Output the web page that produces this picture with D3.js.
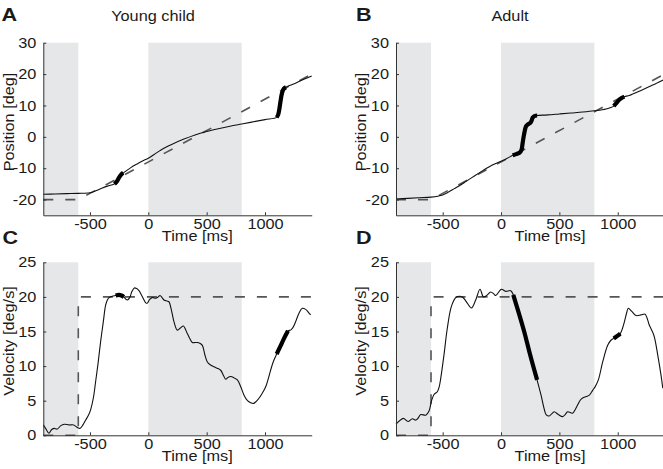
<!DOCTYPE html>
<html>
<head>
<meta charset="utf-8">
<script src="https://cdn.jsdelivr.net/npm/d3@7"></script>
<style>
  html, body { margin: 0; padding: 0; background: #fff; }
  svg { display: block; }
  text { font-family: "Liberation Sans", Arial, sans-serif; fill: #1a1a1a; }
</style>
</head>
<body>
<svg id="chart" width="663" height="469"></svg>
<script>
// ---------------- DATA ----------------
const timeDomain = [-900, 1400];
const timeTicks = [-500, 0, 500, 1000];
const posDomain = [-25, 30];
const posTicks = [-20, -10, 0, 10, 20, 30];
const velDomain = [0, 25];
const velTicks = [0, 5, 10, 15, 20, 25];
const shadeIntervals = [[-900, -600], [0, 800]];

const panelLetters = ["A", "B", "C", "D"];
const panelTitles = ["Young child", "Adult"];
const posLabel = "Position [deg]";
const velLabel = "Velocity [deg/s]";
const timeLabel = "Time [ms]";

// target (dashed)
const targetPos = [[-900, -20], [-600, -20], [1400, 20]];
const targetVel = [[-900, 0], [-600, 0], [-600, 20], [1400, 20]];

// young child eye position
const childPos = [
  [-900, -18.3], [-800, -18.2], [-700, -18.1], [-600, -18.0], [-500, -17.8], [-450, -17.2],
  [-400, -16.4], [-350, -15.7], [-300, -15.2], [-290, -15.0], [-270, -14.2], [-250, -12.9],
  [-230, -11.9], [-215, -11.5], [-150, -9.8], [-100, -8.7], [-50, -7.7], [0, -6.8], [50, -5.6],
  [100, -4.4], [150, -3.3], [200, -2.4], [300, -0.8], [400, 0.6], [500, 1.7], [600, 2.6],
  [700, 3.4], [800, 4.1], [900, 4.8], [1000, 5.5], [1100, 6.2], [1112, 7.0], [1122, 8.7],
  [1134, 11.6], [1146, 14.0], [1160, 15.3], [1180, 15.8], [1200, 16.2], [1250, 16.9],
  [1300, 17.8], [1350, 18.6], [1400, 19.4]
];
const childPosThick = [
  [[-290, -15.0], [-270, -14.2], [-250, -12.9], [-230, -11.9], [-215, -11.5]],
  [[1100, 6.2], [1112, 7.0], [1122, 8.7], [1134, 11.6], [1146, 14.0], [1160, 15.3], [1180, 15.8]]
];

// adult eye position
const adultPos = [
  [-900, -19.8], [-800, -19.6], [-700, -19.4], [-600, -19.2], [-500, -18.5], [-450, -17.6],
  [-400, -16.5], [-350, -15.4], [-300, -14.2], [-250, -13.0], [-200, -11.8], [-150, -10.6],
  [-100, -9.5], [-50, -8.6], [0, -7.8], [50, -6.9], [100, -5.9], [130, -5.5], [160, -5.0],
  [175, -4.2], [185, -2.0], [195, 0.3], [205, 2.2], [215, 3.4], [230, 4.0], [250, 4.4],
  [262, 5.2], [272, 6.2], [290, 6.7], [310, 6.8], [400, 7.0], [500, 7.3], [600, 7.6],
  [700, 7.9], [800, 8.3], [900, 8.9], [966, 9.8], [990, 10.8], [1010, 11.7], [1030, 12.3],
  [1057, 12.8], [1100, 13.2], [1200, 14.8], [1300, 16.5], [1400, 18.3]
];
const adultPosThick = [
  [[100, -5.9], [130, -5.5], [160, -5.0], [175, -4.2], [185, -2.0], [195, 0.3], [205, 2.2],
   [215, 3.4], [230, 4.0], [250, 4.4], [262, 5.2], [272, 6.2], [290, 6.7], [310, 6.8]],
  [[966, 9.8], [990, 10.8], [1010, 11.7], [1030, 12.3], [1057, 12.8]]
];

// young child eye velocity
const childVel = [
  [-900, 1.5], [-880, 1.0], [-852, 0.3], [-830, 0.8], [-809, 1.0], [-780, 0.9], [-750, 1.4],
  [-720, 1.6], [-680, 1.5], [-640, 1.5], [-614, 1.2], [-586, 1.0], [-560, 1.5], [-537, 2.2],
  [-510, 3.0], [-494, 3.7], [-470, 5.5], [-452, 7.7], [-430, 10.5], [-409, 13.5], [-385, 16.5],
  [-366, 18.8], [-350, 19.6], [-337, 19.9], [-310, 20.1], [-280, 20.2], [-250, 20.3],
  [-230, 20.2], [-209, 20.0], [-195, 19.7], [-180, 19.55], [-160, 19.9], [-140, 20.8],
  [-120, 21.3], [-100, 21.2], [-80, 20.9], [-66, 20.5], [-50, 20.0], [-37, 19.55], [-20, 19.1],
  [-9, 19.1], [10, 19.6], [34, 19.9], [63, 19.8], [85, 20.0], [100, 20.2], [118, 19.9],
  [134, 19.55], [160, 19.4], [177, 19.3], [195, 18.3], [220, 16.4], [248, 15.2], [275, 15.5],
  [300, 15.8], [334, 14.7], [355, 14.0], [377, 13.4], [400, 13.4], [420, 13.4], [440, 13.3],
  [463, 13.0], [485, 11.6], [506, 10.6], [530, 10.2], [563, 9.9], [590, 9.7], [620, 9.4],
  [645, 8.6], [663, 8.1], [685, 8.4], [706, 8.5], [735, 8.3], [763, 8.0], [790, 7.1],
  [820, 5.8], [850, 5.0], [877, 4.7], [900, 4.6], [925, 4.9], [948, 5.35], [970, 5.9],
  [991, 6.5], [1010, 7.2], [1030, 8.3], [1048, 9.4], [1070, 10.6], [1100, 11.75],
  [1130, 12.8], [1160, 13.9], [1197, 15.1], [1219, 15.2], [1240, 15.6], [1262, 16.4],
  [1290, 17.6], [1320, 18.35], [1348, 18.2], [1370, 17.8], [1391, 17.4]
];
const childVelThick = [
  [[-280, 20.2], [-250, 20.3], [-230, 20.2], [-209, 20.0]],
  [[1100, 11.75], [1130, 12.8], [1160, 13.9], [1197, 15.1]]
];

// adult eye velocity
const adultVel = [
  [-900, 1.6], [-870, 2.1], [-837, 2.45], [-797, 2.0], [-760, 2.4], [-731, 2.2], [-710, 2.5],
  [-688, 3.0], [-645, 2.9], [-617, 3.5], [-597, 4.9], [-574, 5.9], [-546, 6.3], [-530, 7.0],
  [-517, 8.2], [-489, 11.6], [-460, 15.5], [-426, 18.6], [-388, 19.9], [-360, 20.1],
  [-331, 20.0], [-310, 19.6], [-289, 19.1], [-254, 18.4], [-217, 19.55], [-180, 21.1],
  [-151, 20.0], [-123, 20.2], [-88, 20.7], [-60, 20.4], [-45, 20.2], [3, 21.1], [40, 20.8],
  [83, 20.9], [105, 20.3], [150, 17.8], [200, 14.9], [250, 11.6], [309, 8.0], [343, 5.8],
  [370, 3.8], [386, 3.0], [414, 2.8], [440, 3.2], [457, 3.4], [491, 3.0], [529, 2.7],
  [550, 3.0], [571, 3.4], [614, 3.2], [635, 3.7], [657, 4.4], [680, 5.1], [700, 5.4],
  [730, 5.6], [757, 5.8], [785, 6.5], [806, 7.0], [834, 8.0], [871, 10.6], [914, 13.0],
  [940, 13.7], [966, 14.0], [1000, 14.4], [1022, 14.7], [1040, 15.4], [1057, 16.4],
  [1075, 17.6], [1091, 18.35], [1120, 17.9], [1157, 17.3], [1200, 17.4], [1234, 17.5],
  [1271, 15.9], [1309, 14.5], [1343, 11.6], [1371, 8.7], [1386, 6.8]
];
const adultVelThick = [
  [[105, 20.3], [150, 17.8], [200, 14.9], [250, 11.6], [309, 8.0]],
  [[966, 14.0], [1000, 14.4], [1022, 14.7]]
];

// ---------------- LAYOUT ----------------
const svg = d3.select("#chart");
const colLeft = [43.3, 396];
const topRow = { top: 42.7, bottom: 215.3 };
const botRow = { top: 262.3, bottom: 435.3 };
const plotW = 268.4;

const panels = [
  { letter: panelLetters[0], col: 0, row: topRow, domain: posDomain, ticks: posTicks, ylab: posLabel,
    target: targetPos, eye: childPos, thick: childPosThick, title: panelTitles[0],
    letterPos: [1.5, 21], titleX: 153, ylabX: 13.5, ylabY: 122 },
  { letter: panelLetters[1], col: 1, row: topRow, domain: posDomain, ticks: posTicks, ylab: posLabel,
    target: targetPos, eye: adultPos, thick: adultPosThick, title: panelTitles[1],
    letterPos: [356, 21], titleX: 510, ylabX: 366, ylabY: 122 },
  { letter: panelLetters[2], col: 0, row: botRow, domain: velDomain, ticks: velTicks, ylab: velLabel,
    target: targetVel, eye: childVel, thick: childVelThick,
    letterPos: [2.5, 244], ylabX: 13.5, ylabY: 341 },
  { letter: panelLetters[3], col: 1, row: botRow, domain: velDomain, ticks: velTicks, ylab: velLabel,
    target: targetVel, eye: adultVel, thick: adultVelThick,
    letterPos: [356, 244], ylabX: 366, ylabY: 341 }
];

const fs = 14.3;   // font size
const sx = 1.14;   // horizontal glyph stretch seen in the reference

panels.forEach(p => {
  const left = colLeft[p.col];
  const x = d3.scaleLinear().domain(timeDomain).range([left, left + plotW]);
  const y = d3.scaleLinear().domain(p.domain).range([p.row.bottom, p.row.top]);
  const g = svg.append("g");

  // shaded intervals
  g.selectAll("rect.shade").data(shadeIntervals).enter().append("rect")
    .attr("class", "shade")
    .attr("x", d => x(d[0]))
    .attr("width", d => x(d[1]) - x(d[0]))
    .attr("y", y(p.domain[1]))
    .attr("height", y(p.domain[0]) - y(p.domain[1]))
    .attr("fill", "#e6e7e8");

  // target dashed
  const lin = d3.line().x(d => x(d[0])).y(d => y(d[1]));
  g.append("path").attr("d", lin(p.target))
    .attr("fill", "none").attr("stroke", "#555").attr("stroke-width", 1.6)
    .attr("stroke-dasharray", "10,12");

  // eye trace
  const smooth = d3.line().x(d => x(d[0])).y(d => y(d[1])).curve(d3.curveCatmullRom.alpha(0.5));
  g.append("path").attr("d", smooth(p.eye))
    .attr("fill", "none").attr("stroke", "#111").attr("stroke-width", 1.1);

  p.thick.forEach(seg => {
    g.append("path").attr("d", smooth(seg))
      .attr("fill", "none").attr("stroke", "#000").attr("stroke-width", 4.2)
      .attr("stroke-linecap", "butt");
  });

  // axes
  const xAxis = d3.axisBottom(x).tickValues(timeTicks).tickFormat(d3.format("d"))
    .tickSizeInner(-3).tickSizeOuter(0).tickPadding(3.5);
  const gx = g.append("g").attr("transform", `translate(0,${p.row.bottom})`).call(xAxis);
  const yAxis = d3.axisLeft(y).tickValues(p.ticks).tickFormat(d3.format("d"))
    .tickSizeInner(-3).tickSizeOuter(0).tickPadding(7);
  const gy = g.append("g").attr("transform", `translate(${left},0)`).call(yAxis);
  [gx, gy].forEach(a => {
    a.select(".domain").attr("stroke", "#333").attr("stroke-width", 1);
    a.selectAll(".tick line").attr("stroke", "#333");
    a.selectAll(".tick text").style("font-size", fs + "px").attr("fill", "#1a1a1a")
      .style("font-family", "'Liberation Sans', Arial, sans-serif")
      .text(d => d < 0 ? "-" + Math.abs(d) : d);
  });
  gx.selectAll(".tick text").attr("transform", `scale(${sx},1)`);
  gy.selectAll(".tick text").attr("x", -7 / sx).attr("transform", `scale(${sx},1)`);

  // x label
  g.append("text")
    .attr("transform", `translate(${left + 154},${p.row.bottom + 26}) scale(${sx},1)`)
    .attr("text-anchor", "middle").style("font-size", fs + "px").text(timeLabel);

  // y label
  g.append("text")
    .attr("transform", `translate(${p.ylabX},${p.ylabY}) rotate(-90) scale(${sx},1)`)
    .attr("text-anchor", "middle").style("font-size", fs + "px").text(p.ylab);

  // title
  if (p.title) {
    g.append("text").attr("transform", `translate(${p.titleX},21) scale(${sx},1)`)
      .attr("text-anchor", "middle").style("font-size", fs + "px").text(p.title);
  }

  // panel letter
  g.append("text").attr("transform", `translate(${p.letterPos[0]},${p.letterPos[1]}) scale(1.2,1)`)
    .style("font-size", "18px").style("font-weight", "bold").text(p.letter);
});
</script>
</body>
</html>
